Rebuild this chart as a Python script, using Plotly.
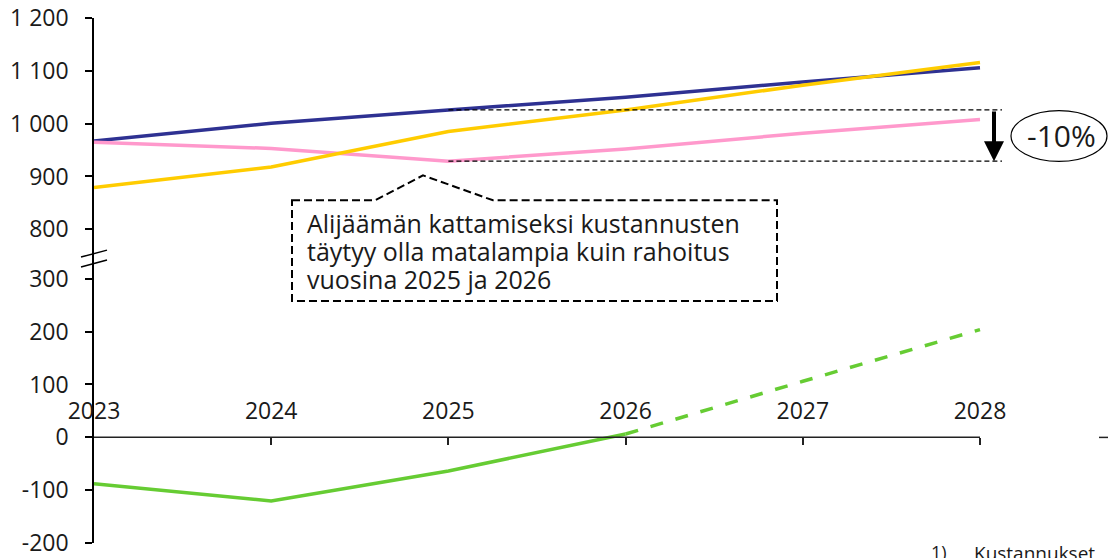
import plotly.graph_objects as go

# ---------------- data ----------------
years = [2023, 2024, 2025, 2026, 2027, 2028]
rahoitus = [967, 1001, 1026, 1050, 1079, 1106]        # dark blue
kustannukset = [879, 918, 985, 1026, 1073, 1116]      # yellow
kust_target = [965, 953, 929, 952, 982, 1008]         # pink
alijaama_years = [2023, 2024, 2025, 2026]
alijaama = [-88, -121, -64, 6]                        # green solid
ennuste_years = [2026, 2027, 2028]
ennuste = [6, 106, 204]                               # green dashed

upper_ticks = [800, 900, 1000, 1100, 1200]
upper_text = ["800", "900", "1 000", "1 100", "1 200"]
lower_ticks = [-200, -100, 0, 100, 200, 300]
lower_text = ["-200", "-100", "0", "100", "200", "300"]
year_labels = ["2023", "2024", "2025", "2026", "2027", "2028"]

box_lines = ["Alijäämän kattamiseksi kustannusten",
             "täytyy olla matalampia kuin rahoitus",
             "vuosina 2025 ja 2026"]
pct_text = "-10%"
note_num = "1)"
note_text = "Kustannukset"

BLUE = "#2E3192"
YELLOW = "#FFCC00"
PINK = "#FF99CC"
GREEN = "#66CC33"
FONT = "Open Sans"
TXT = "#1a1a1a"

# ---------------- geometry ----------------
W, H = 1108, 558
PL, PR, PT, PB = 94, 1108, 18, 545
def px(x):
    return (x - PL) / (PR - PL)
def py(y):
    return (PB - y) / (PB - PT)

split = py(255)
low_dom = [0, split]
up_dom = [split, 1]
low_range = [-200.6, 347.2]
up_range = [752.8, 1200.3]
x_range = [2023, 2023 + (PR - PL) / 177.2]
zero_pos = low_dom[0] + (0 - low_range[0]) / (low_range[1] - low_range[0]) * (low_dom[1] - low_dom[0])

fig = go.Figure()
fig.add_trace(go.Scatter(x=years, y=rahoitus, mode="lines", line=dict(color=BLUE, width=3.5), yaxis="y2"))
fig.add_trace(go.Scatter(x=years, y=kust_target, mode="lines", line=dict(color=PINK, width=3.5), yaxis="y2"))
fig.add_trace(go.Scatter(x=years, y=kustannukset, mode="lines", line=dict(color=YELLOW, width=3.5), yaxis="y2"))
fig.add_trace(go.Scatter(x=alijaama_years, y=alijaama, mode="lines", line=dict(color=GREEN, width=3.5), yaxis="y"))
fig.add_trace(go.Scatter(x=ennuste_years, y=ennuste, mode="lines",
                         line=dict(color=GREEN, width=3.5, dash="13px,13px"), yaxis="y"))

axis_font = dict(family=FONT, size=23, color=TXT)

shapes = []
# zero line (x axis line) 2023 -> 2028
shapes.append(dict(type="line", xref="x", yref="y", x0=years[0], x1=years[-1], y0=0, y1=0,
                   line=dict(color="#222", width=1.5)))
# small dash at right edge
shapes.append(dict(type="line", xref="paper", yref="paper", x0=px(1099), x1=px(1108), y0=py(439), y1=py(439),
                   line=dict(color="#222", width=1.5)))
# dotted reference lines
for val in (rahoitus[2], kust_target[2]):
    shapes.append(dict(type="line", xref="x", yref="y2", x0=years[2], x1=years[-1] + (1002 - 980) / 177.2,
                       y0=val, y1=val, line=dict(color="black", width=1.3, dash="5px,3px")))
# axis break marks
for yy in (258, 268):
    shapes.append(dict(type="line", xref="paper", yref="paper", x0=px(81), x1=px(107), y0=py(yy), y1=py(yy - 7),
                       line=dict(color="black", width=1.5)))
# callout box
pts = [(292, 201), (375, 201), (423, 176), (493, 201), (777, 201), (777, 302), (292, 302)]
path = "M " + " L ".join(f"{px(a):.5f},{py(b):.5f}" for a, b in pts) + " Z"
shapes.append(dict(type="path", xref="paper", yref="paper", path=path,
                   line=dict(color="black", width=2, dash="8px,4px"), fillcolor="rgba(0,0,0,0)"))
# ellipse around -10%
shapes.append(dict(type="circle", xref="paper", yref="paper", x0=px(1011), x1=px(1107), y0=py(162), y1=py(111),
                   line=dict(color="black", width=1.2)))

annotations = []
for i, line in enumerate(box_lines):
    annotations.append(dict(xref="paper", yref="paper", x=px(305), y=py(224 + 28 * i), xanchor="left",
                            yanchor="middle", align="left", text=line, showarrow=False,
                            font=dict(family=FONT, size=25, color=TXT)))
annotations.append(dict(xref="paper", yref="paper", x=px(1061), y=py(136), xanchor="center", yanchor="middle",
                        text=pct_text, showarrow=False, font=dict(family=FONT, size=30, color=TXT)))
annotations.append(dict(xref="paper", yref="paper", x=px(929), y=py(540), xanchor="left", yanchor="top",
                        text=note_num, showarrow=False, font=dict(family=FONT, size=18, color=TXT)))
annotations.append(dict(xref="paper", yref="paper", x=px(972), y=py(540), xanchor="left", yanchor="top",
                        text=note_text, showarrow=False, font=dict(family=FONT, size=19, color=TXT)))
arrow_x = years[-1] + (994 - 980) / 177.2
annotations.append(dict(xref="x", yref="y2", axref="x", ayref="y2", x=arrow_x, y=kust_target[2],
                        ax=arrow_x, ay=rahoitus[2], text="", showarrow=True, arrowhead=2,
                        arrowwidth=4, arrowsize=1, arrowcolor="black", standoff=0, startstandoff=0))

fig.update_layout(
    width=W, height=H,
    margin=dict(l=PL, r=W - PR, t=PT, b=H - PB),
    paper_bgcolor="white", plot_bgcolor="white",
    showlegend=False,
    font=dict(family=FONT, color=TXT),
    xaxis=dict(range=x_range, domain=[0, 1], anchor="free", position=zero_pos, side="top",
               tickvals=years, ticktext=year_labels, ticks="inside", ticklen=7, tickwidth=1.5,
               tickcolor="#222", showline=False, showgrid=False, zeroline=False,
               tickfont=axis_font, ticklabelstandoff=14),
    yaxis=dict(domain=low_dom, range=low_range, anchor="x", tickvals=lower_ticks, ticktext=lower_text,
               ticks="outside", ticklen=7, tickwidth=1.5, tickcolor="black", showline=True,
               linecolor="black", linewidth=1.5, showgrid=False, zeroline=False, tickfont=axis_font,
               ticklabelstandoff=12, ticklabeloverflow="allow"),
    yaxis2=dict(domain=up_dom, range=up_range, anchor="x", tickvals=upper_ticks, ticktext=upper_text,
                ticks="outside", ticklen=7, tickwidth=1.5, tickcolor="black", showline=True,
                linecolor="black", linewidth=1.5, showgrid=False, zeroline=False, tickfont=axis_font,
                ticklabelstandoff=12, ticklabeloverflow="allow"),
    shapes=shapes,
    annotations=annotations,
)

fig.write_html("out.html", config={"displayModeBar": False},
               post_script=["document.body.style.margin='0px';document.body.style.overflow='hidden';"])
